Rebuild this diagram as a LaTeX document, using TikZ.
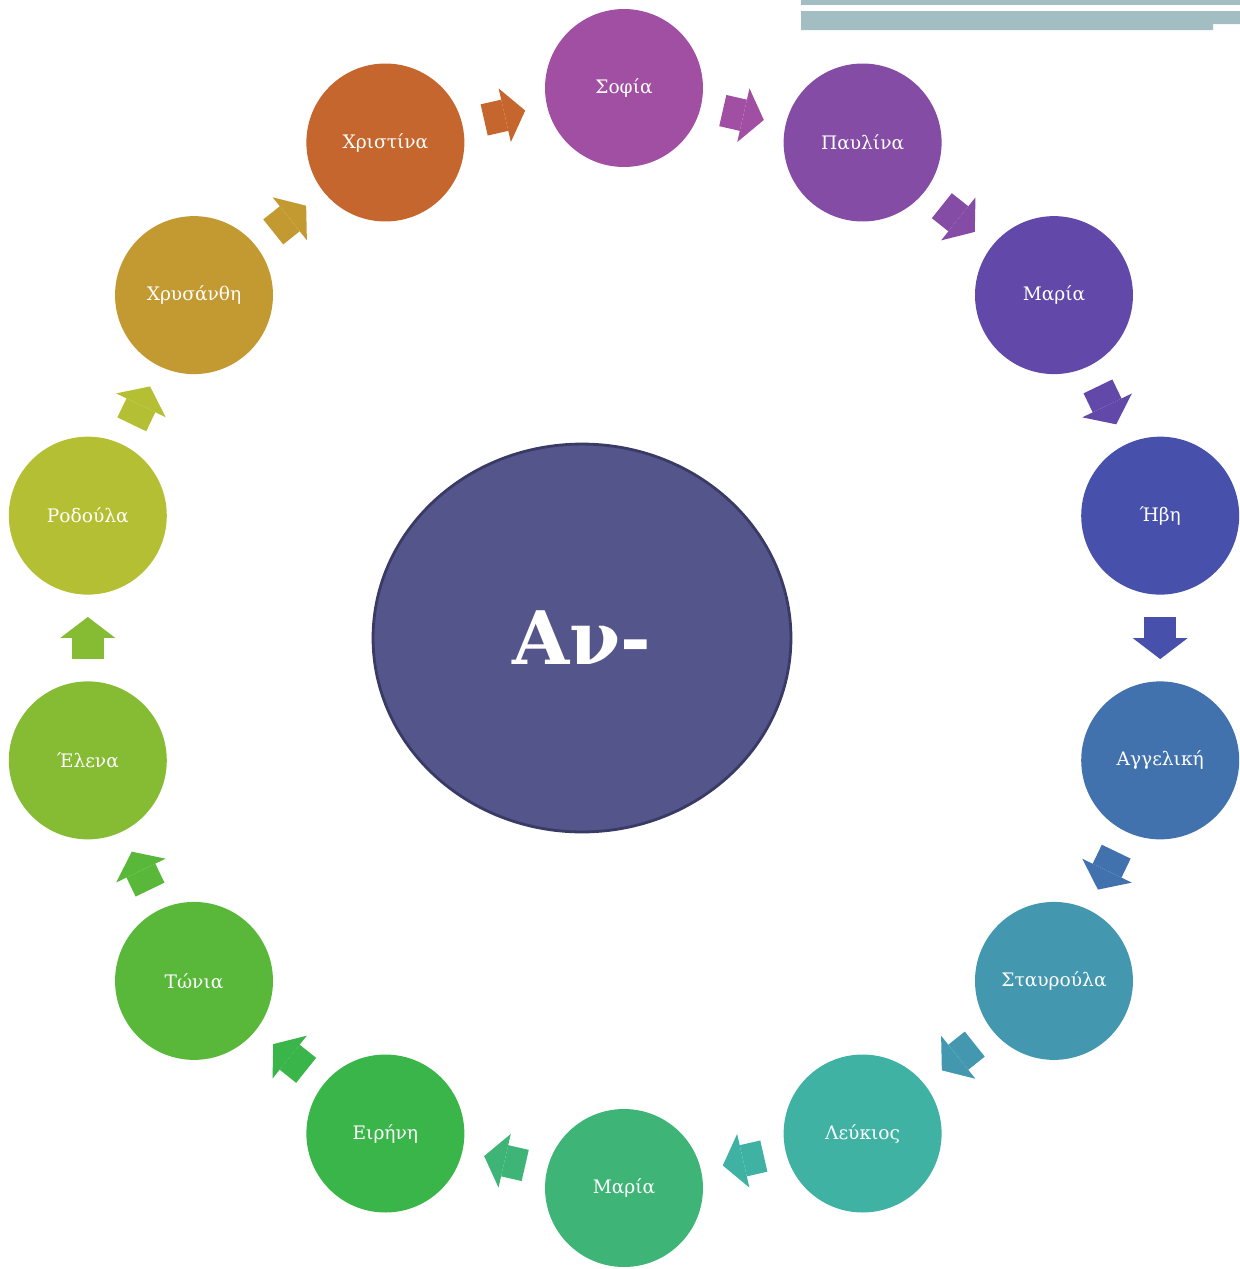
\documentclass[tikz,border=0pt]{standalone}
\usepackage{fontspec}
\setmainfont{DejaVu Serif}
\usetikzlibrary{arrows.meta,positioning,calc,shapes.geometric}

\definecolor{cSofia}{HTML}{A04FA3}
\definecolor{cPavlina}{HTML}{854CA6}
\definecolor{cMariaA}{HTML}{6248A8}
\definecolor{cIvi}{HTML}{4750AB}
\definecolor{cAggeliki}{HTML}{4272AD}
\definecolor{cStavroula}{HTML}{4398B0}
\definecolor{cLefkios}{HTML}{3FB2A3}
\definecolor{cMariaB}{HTML}{3EB577}
\definecolor{cIrini}{HTML}{3AB54A}
\definecolor{cTonia}{HTML}{59B83A}
\definecolor{cEleni}{HTML}{86BB34}
\definecolor{cRodoula}{HTML}{B5BF33}
\definecolor{cChrysanthi}{HTML}{C39A32}
\definecolor{cChristina}{HTML}{C4662E}
\definecolor{cCentre}{HTML}{54558A}
\definecolor{cCentreRim}{HTML}{3A3A66}
\definecolor{cBar}{HTML}{A2BEC2}

\begin{document}
\begin{tikzpicture}[x=0.02cm, y=0.02cm]
      \tikzstyle{person} = [circle, minimum size=3.16cm, inner sep=0pt,
                            text=white, font=\fontsize{10.6}{12}\selectfont]
      \tikzstyle{flow} = [line width=0.64cm,
                          -{Triangle[width=1.1cm, length=0.42cm, line width=0pt]}]
      \useasboundingbox (0,0) rectangle (1240,-1269);
      % top bars
      \fill[cBar] (801,0) rectangle (1240,-5);
      \fill[cBar] (801,-11) -- (1240,-11) -- (1240,-24) -- (1213,-24)
                  -- (1213,-30) -- (801,-30) -- cycle;
      \node[ellipse, draw=cCentreRim, line width=1.6pt, fill=cCentre,
            minimum width=8.36cm, minimum height=7.76cm, text=white,
            font=\bfseries\fontsize{42}{46}\selectfont] (core) at (582,-638) {Αν-};
      \coordinate (ring) at (624,-638);
      \node[person, fill=cSofia] (sofia) at ($(ring)+(90:550)$) {Σοφία};
      \node[person, fill=cPavlina] (pavlina) at ($(ring)+(64.286:550)$) {Παυλίνα};
      \node[person, fill=cMariaA] (mariaA) at ($(ring)+(38.571:550)$) {Μαρία};
      \node[person, fill=cIvi] (ivi) at ($(ring)+(12.857:550)$) {Ήβη};
      \node[person, fill=cAggeliki] (aggeliki) at ($(ring)+(-12.857:550)$) {Αγγελική};
      \node[person, fill=cStavroula] (stavroula) at ($(ring)+(-38.571:550)$) {Σταυρούλα};
      \node[person, fill=cLefkios] (lefkios) at ($(ring)+(-64.286:550)$) {Λεύκιος};
      \node[person, fill=cMariaB] (mariaB) at ($(ring)+(-90:550)$) {Μαρία};
      \node[person, fill=cIrini] (irini) at ($(ring)+(-115.714:550)$) {Ειρήνη};
      \node[person, fill=cTonia] (tonia) at ($(ring)+(-141.429:550)$) {Τώνια};
      \node[person, fill=cEleni] (eleni) at ($(ring)+(-167.143:550)$) {Έλενα};
      \node[person, fill=cRodoula] (rodoula) at ($(ring)+(167.143:550)$) {Ροδούλα};
      \node[person, fill=cChrysanthi] (chrysanthi) at ($(ring)+(141.429:550)$) {Χρυσάνθη};
      \node[person, fill=cChristina] (christina) at ($(ring)+(115.714:550)$) {Χριστίνα};
      % block arrows, clockwise
      \draw[flow, cSofia] ($(sofia)!0.414!(pavlina)$) -- ($(sofia)!0.586!(pavlina)$);
      \draw[flow, cPavlina] ($(pavlina)!0.414!(mariaA)$) -- ($(pavlina)!0.586!(mariaA)$);
      \draw[flow, cMariaA] ($(mariaA)!0.414!(ivi)$) -- ($(mariaA)!0.586!(ivi)$);
      \draw[flow, cIvi] ($(ivi)!0.414!(aggeliki)$) -- ($(ivi)!0.586!(aggeliki)$);
      \draw[flow, cAggeliki] ($(aggeliki)!0.414!(stavroula)$) -- ($(aggeliki)!0.586!(stavroula)$);
      \draw[flow, cStavroula] ($(stavroula)!0.414!(lefkios)$) -- ($(stavroula)!0.586!(lefkios)$);
      \draw[flow, cLefkios] ($(lefkios)!0.414!(mariaB)$) -- ($(lefkios)!0.586!(mariaB)$);
      \draw[flow, cMariaB] ($(mariaB)!0.414!(irini)$) -- ($(mariaB)!0.586!(irini)$);
      \draw[flow, cIrini] ($(irini)!0.414!(tonia)$) -- ($(irini)!0.586!(tonia)$);
      \draw[flow, cTonia] ($(tonia)!0.414!(eleni)$) -- ($(tonia)!0.586!(eleni)$);
      \draw[flow, cEleni] ($(eleni)!0.414!(rodoula)$) -- ($(eleni)!0.586!(rodoula)$);
      \draw[flow, cRodoula] ($(rodoula)!0.414!(chrysanthi)$) -- ($(rodoula)!0.586!(chrysanthi)$);
      \draw[flow, cChrysanthi] ($(chrysanthi)!0.414!(christina)$) -- ($(chrysanthi)!0.586!(christina)$);
      \draw[flow, cChristina] ($(christina)!0.414!(sofia)$) -- ($(christina)!0.586!(sofia)$);
    \end{tikzpicture}
\end{document}
